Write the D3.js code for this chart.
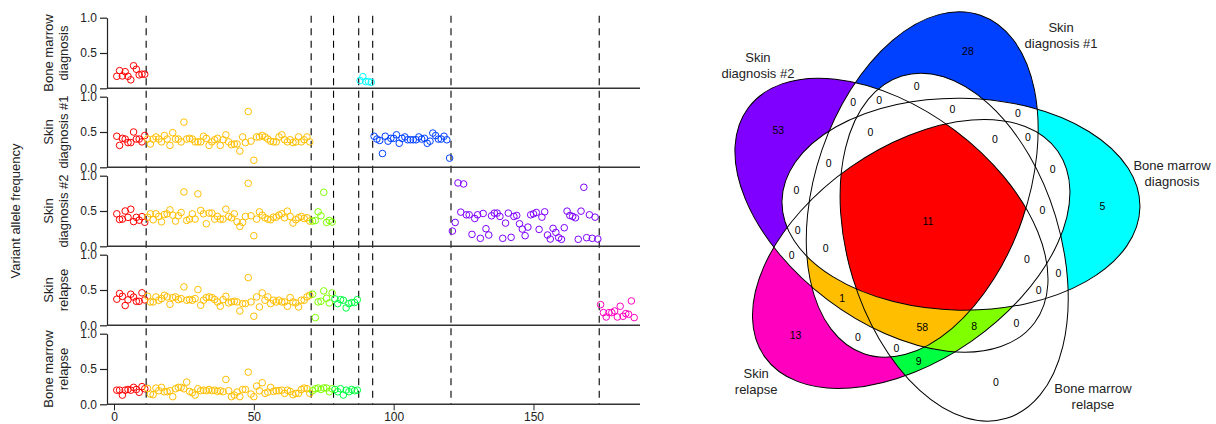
<!DOCTYPE html>
<html>
<head>
<meta charset="utf-8">
<script src="https://cdn.jsdelivr.net/npm/d3@7"></script>
<style>
    body { margin: 0; background: #fff; }
    text { font-family: "Liberation Sans", Arial, Helvetica, sans-serif; }
</style>
</head>
<body>
<div id="chart"></div>
<script>
// Samples (panel order = venn set order)
var samples = ["Bone marrow\ndiagnosis", "Skin\ndiagnosis #1", "Skin\ndiagnosis #2", "Skin\nrelapse", "Bone marrow\nrelapse"];

// Mutation groups: colour and number of mutations in each group
var groupColors = ["#FF0000", "#FFBF00", "#80FF00", "#00FF40", "#00FFFF", "#0040FF", "#8000FF", "#FF00BF"];
var groupSizes = [11, 59, 8, 9, 5, 28, 53, 13];

// Variant allele frequency per sample, one list per group (null = not found)
var vafBmDx = [
    [0.17, 0.25, 0.175, 0.235, 0.17, 0.12, 0.32, 0.27, 0.19, 0.20, 0.20],
    null, null, null,
    [0.11, 0.165, 0.095, 0.095, 0.085],
    null, null, null
];
var vafSkinDx1 = [
    [0.44, 0.31, 0.41, 0.40, 0.35, 0.35, 0.50, 0.40, 0.40, 0.36, 0.45],
    [0.40, 0.33, 0.40, 0.43, 0.40, 0.36, 0.45, 0.40, 0.31, 0.49, 0.40, 0.40, 0.36, 0.64, 0.40, 0.41, 0.40, 0.36, 0.36, 0.36,
     0.44, 0.41, 0.31, 0.36, 0.39, 0.41, 0.31, 0.39, 0.46, 0.36, 0.32, 0.33, 0.33, 0.23, 0.43, 0.35, 0.79, 0.37, 0.10, 0.43,
     0.43, 0.45, 0.43, 0.40, 0.37, 0.36, 0.36, 0.43, 0.46, 0.39, 0.36, 0.39, 0.35, 0.36, 0.43, 0.36, 0.39, 0.43, 0.36],
    null, null, null,
    [0.44, 0.40, 0.38, 0.195, 0.44, 0.37, 0.41, 0.41, 0.46, 0.34, 0.41, 0.43, 0.39, 0.39, 0.39, 0.39, 0.43, 0.40, 0.41, 0.34,
     0.37, 0.485, 0.45, 0.40, 0.40, 0.44, 0.39, 0.13],
    null, null
];
var vafSkinDx2 = [
    [0.46, 0.38, 0.385, 0.50, 0.41, 0.525, 0.35, 0.41, 0.37, 0.42, 0.34],
    [0.413, 0.46, 0.376, 0.46, 0.423, 0.347, 0.45, 0.46, 0.516, 0.441, 0.357, 0.432, 0.479, 0.77, 0.366, 0.385, 0.46, 0.385, 0.742, 0.507,
     0.46, 0.319, 0.47, 0.47, 0.385, 0.423, 0.385, 0.385, 0.526, 0.423, 0.404, 0.46, 0.347, 0.282, 0.338, 0.423, 0.892, 0.432, 0.15, 0.385,
     0.488, 0.441, 0.404, 0.385, 0.376, 0.413, 0.413, 0.441, 0.46, 0.404, 0.498, 0.423, 0.329, 0.376, 0.404, 0.423, 0.394, 0.404, 0.357],
    [0.357, 0.366, 0.488, 0.432, 0.765, 0.338, 0.366, 0.343],
    null, null, null,
    [0.216, 0.338, 0.897, 0.484, 0.883, 0.446, 0.446, 0.169, 0.394, 0.446, 0.113, 0.465, 0.249, 0.16, 0.432, 0.47, 0.47, 0.423, 0.113, 0.329,
     0.47, 0.127, 0.423, 0.437, 0.319, 0.244, 0.15, 0.272, 0.446, 0.46, 0.479, 0.239, 0.413, 0.488, 0.16, 0.103, 0.254, 0.197, 0.122, 0.099,
     0.263, 0.498, 0.437, 0.423, 0.404, 0.099, 0.498, 0.836, 0.122, 0.446, 0.113, 0.413, 0.103],
    null
];
var vafSkinRel = [
    [0.37, 0.45, 0.41, 0.28, 0.36, 0.44, 0.40, 0.34, 0.34, 0.46, 0.36],
    [0.411, 0.331, 0.331, 0.402, 0.355, 0.378, 0.426, 0.402, 0.298, 0.392, 0.402, 0.364, 0.378, 0.544, 0.355, 0.364, 0.355, 0.378, 0.506, 0.284,
     0.355, 0.392, 0.402, 0.392, 0.364, 0.331, 0.27, 0.364, 0.411, 0.317, 0.331, 0.34, 0.331, 0.203, 0.307, 0.307, 0.676, 0.331, 0.128, 0.402,
     0.26, 0.459, 0.355, 0.402, 0.307, 0.355, 0.331, 0.355, 0.331, 0.331, 0.27, 0.392, 0.331, 0.317, 0.26, 0.355, 0.355, 0.402, 0.426],
    [0.44, 0.109, 0.331, 0.34, 0.487, 0.383, 0.317, 0.459],
    [0.374, 0.307, 0.364, 0.355, 0.246, 0.307, 0.322, 0.322, 0.364],
    null, null, null,
    [0.293, 0.18, 0.118, 0.18, 0.18, 0.203, 0.118, 0.27, 0.128, 0.166, 0.156, 0.345, 0.109]
];
var vafBmRel = [
    [0.20, 0.20, 0.13, 0.20, 0.21, 0.20, 0.24, 0.21, 0.17, 0.25, 0.22],
    [0.225, 0.145, 0.136, 0.23, 0.192, 0.24, 0.178, 0.178, 0.192, 0.108, 0.22, 0.24, 0.24, 0.22, 0.315, 0.183, 0.164, 0.131, 0.22, 0.192,
     0.2, 0.192, 0.21, 0.192, 0.2, 0.183, 0.192, 0.178, 0.352, 0.192, 0.108, 0.131, 0.173, 0.108, 0.21, 0.21, 0.455, 0.145, 0.108, 0.258,
     0.192, 0.305, 0.155, 0.173, 0.24, 0.183, 0.192, 0.192, 0.2, 0.155, 0.2, 0.183, 0.136, 0.155, 0.155, 0.21, 0.23, 0.22, 0.155],
    [0.192, 0.22, 0.23, 0.21, 0.232, 0.23, 0.178, 0.22],
    [0.21, 0.178, 0.22, 0.131, 0.2, 0.178, 0.21, 0.192, 0.2],
    null, null, null, null
];
var vafBySample = [vafBmDx, vafSkinDx1, vafSkinDx2, vafSkinRel, vafBmRel];

var yTicks = [0, 0.5, 1];
var xTicks = [0, 50, 100, 150];

// Venn regions: membership key in sample order, count, fill
var regionKeys = ["11111", "01111", "01110", "00111", "00011", "10000", "01000", "00100", "00010", "00001"];
var regionCounts = [11, 58, 1, 8, 9, 5, 28, 53, 13, 0];
var regionFills = ["#FF0000", "#FFBF00", "#FFBF00", "#80FF00", "#00FF40", "#00FFFF", "#0040FF", "#8000FF", "#FF00BF", "none"];

// ---------------- layout ----------------
var svgWidth = 1216;
var svgHeight = 424;

var svg = d3.select("#chart")
    .append("svg")
    .attr("width", svgWidth)
    .attr("height", svgHeight);

var ink = "#222";
var axisX = 107;
var plotRight = 640;
var panelTop = 17.7;
var panelStep = 79;
var panelHeight = 70.6;

var xScale = d3.scaleLinear()
    .domain([0, 150])
    .range([114, 533.5]);

// start index of every group (1-based)
var groupStart = [];
var acc = 1;
groupSizes.forEach(function (n) { groupStart.push(acc); acc += n; });

// dashed separators between groups
var lastBottom = panelTop + 4 * panelStep + panelHeight;
svg.append("g")
    .selectAll("line")
    .data(groupStart.slice(1))
    .enter()
    .append("line")
    .attr("x1", d => xScale(d - 0.5))
    .attr("x2", d => xScale(d - 0.5))
    .attr("y1", panelTop - 2)
    .attr("y2", lastBottom)
    .attr("stroke", "#000")
    .attr("stroke-width", 1.1)
    .attr("stroke-dasharray", "7,5.5");

samples.forEach(function (name, i) {
    var top = panelTop + i * panelStep;
    var yScale = d3.scaleLinear()
        .domain([0, 1])
        .range([top + panelHeight, top]);

    var panel = svg.append("g");

    // y axis
    var yAxis = panel.append("g")
        .attr("transform", `translate(${axisX}, 0)`)
        .call(d3.axisLeft(yScale)
            .tickValues(yTicks)
            .tickFormat(d3.format(".1f"))
            .tickSize(7)
            .tickSizeOuter(0)
            .tickPadding(3));
    yAxis.attr("font-size", 12).attr("font-family", null).attr("color", ink);
    yAxis.selectAll("path, line").attr("stroke-width", 1.2);

    // baseline across the panel
    panel.append("line")
        .attr("x1", axisX)
        .attr("x2", plotRight)
        .attr("y1", yScale(0))
        .attr("y2", yScale(0))
        .attr("stroke", "#333")
        .attr("stroke-width", 1.6);

    // panel title (two lines, rotated)
    name.split("\n").forEach(function (line, li) {
        panel.append("text")
            .attr("transform", `translate(${48 + li * 15.5}, ${top + panelHeight / 2}) rotate(-90)`)
            .attr("text-anchor", "middle")
            .attr("dominant-baseline", "central")
            .attr("font-size", 13)
            .attr("fill", ink)
            .text(line);
    });

    // points
    vafBySample[i].forEach(function (vals, g) {
        if (!vals) return;
        panel.append("g")
            .selectAll("circle")
            .data(vals)
            .enter()
            .append("circle")
            .attr("cx", (d, j) => xScale(groupStart[g] + j))
            .attr("cy", d => yScale(d))
            .attr("r", 3.3)
            .attr("fill", "none")
            .attr("stroke", groupColors[g])
            .attr("stroke-width", 1);
    });

    // x axis under the last panel
    if (i === samples.length - 1) {
        var xAxis = svg.append("g")
            .attr("transform", `translate(0, ${yScale(0)})`)
            .call(d3.axisBottom(xScale)
                .tickValues(xTicks)
                .tickSize(6)
                .tickPadding(2));
        xAxis.select(".domain").remove();
        xAxis.attr("font-size", 12).attr("font-family", null).attr("color", ink);
    }
});

svg.append("text")
    .attr("transform", `translate(15, ${(panelTop + lastBottom) / 2}) rotate(-90)`)
    .attr("text-anchor", "middle")
    .attr("dominant-baseline", "central")
    .attr("font-size", 13)
    .attr("fill", ink)
    .text("Variant allele frequency");

// ---------------- venn ----------------
var vennC = [928, 221];
var vennShift = 37;
var vennMajor = 179;
var vennMinor = 106;

var ellipses = samples.map(function (name, k) {
    var t = (-27 - 72 * k) * Math.PI / 180;
    return {
        k: k,
        cx: vennC[0] + vennShift * Math.cos(t),
        cy: vennC[1] + vennShift * Math.sin(t),
        rot: 1 - 72 * k
    };
});

function shapeEllipse(sel, e) {
    return sel.attr("cx", e.cx)
        .attr("cy", e.cy)
        .attr("rx", vennMajor)
        .attr("ry", vennMinor)
        .attr("transform", `rotate(${e.rot}, ${e.cx}, ${e.cy})`);
}

function inside(e, x, y) {
    var r = e.rot * Math.PI / 180;
    var dx = x - e.cx, dy = y - e.cy;
    var u = dx * Math.cos(r) + dy * Math.sin(r);
    var v = -dx * Math.sin(r) + dy * Math.cos(r);
    return (u * u) / (vennMajor * vennMajor) + (v * v) / (vennMinor * vennMinor) <= 1;
}

var defs = svg.append("defs");
ellipses.forEach(function (e) {
    shapeEllipse(defs.append("clipPath").attr("id", "clip" + e.k).append("ellipse"), e);
});

var vennGroup = svg.append("g");

regionKeys.forEach(function (key, ri) {
    if (regionFills[ri] === "none") return;
    var mask = defs.append("mask")
        .attr("id", "mask" + ri)
        .attr("maskUnits", "userSpaceOnUse")
        .attr("x", 650).attr("y", 0).attr("width", 566).attr("height", svgHeight);
    mask.append("rect")
        .attr("x", 650).attr("y", 0).attr("width", 566).attr("height", svgHeight)
        .attr("fill", "white");
    ellipses.filter(e => key[e.k] === "0").forEach(function (e) {
        shapeEllipse(mask.append("ellipse"), e).attr("fill", "black");
    });

    var g = vennGroup;
    ellipses.filter(e => key[e.k] === "1").forEach(function (e) {
        g = g.append("g").attr("clip-path", `url(#clip${e.k})`);
    });
    g.append("rect")
        .attr("x", 650).attr("y", 0).attr("width", 566).attr("height", svgHeight)
        .attr("fill", regionFills[ri])
        .attr("mask", `url(#mask${ri})`);
});

vennGroup.selectAll("ellipse.outline")
    .data(ellipses)
    .enter()
    .append("ellipse")
    .attr("class", "outline")
    .each(function (e) { shapeEllipse(d3.select(this), e); })
    .attr("fill", "none")
    .attr("stroke", "#000")
    .attr("stroke-width", 1);

// count labels: centre plus five-fold orbits [angle, radius]
var labelOrbits = [[-4.8, 175], [-5.7, 115], [21.1, 106], [21.8, 140.5], [32.0, 130.6], [49.2, 135.2]];
var labelSpots = [vennC.slice()];
labelOrbits.forEach(function (o) {
    for (var j = 0; j < 5; j++) {
        var t = (o[0] + 72 * j) * Math.PI / 180;
        labelSpots.push([vennC[0] + o[1] * Math.cos(t), vennC[1] + o[1] * Math.sin(t)]);
    }
});

vennGroup.selectAll("text.count")
    .data(labelSpots)
    .enter()
    .append("text")
    .attr("class", "count")
    .attr("x", d => d[0])
    .attr("y", d => d[1])
    .attr("text-anchor", "middle")
    .attr("dominant-baseline", "central")
    .attr("font-size", 10.5)
    .attr("fill", "#000")
    .text(function (d) {
        var key = ellipses.map(e => inside(e, d[0], d[1]) ? "1" : "0").join("");
        var ri = regionKeys.indexOf(key);
        return ri < 0 ? 0 : regionCounts[ri];
    });

// category labels, placed like cat.pos / cat.dist
var catAngle = [-11.1, -54.4, -137.5, 137, 46.7];
var catDist = [248.7, 228.6, 230.7, 235, 240.5];

samples.forEach(function (name, k) {
    var t = catAngle[k] * Math.PI / 180;
    var cx = vennC[0] + catDist[k] * Math.cos(t);
    var cy = vennC[1] + catDist[k] * Math.sin(t);
    var lines = name.split("\n");
    lines.forEach(function (line, li) {
        vennGroup.append("text")
            .attr("x", cx)
            .attr("y", cy + (li - (lines.length - 1) / 2) * 16)
            .attr("text-anchor", "middle")
            .attr("dominant-baseline", "central")
            .attr("font-size", 13)
            .attr("fill", ink)
            .text(line);
    });
});
</script>
</body>
</html>
